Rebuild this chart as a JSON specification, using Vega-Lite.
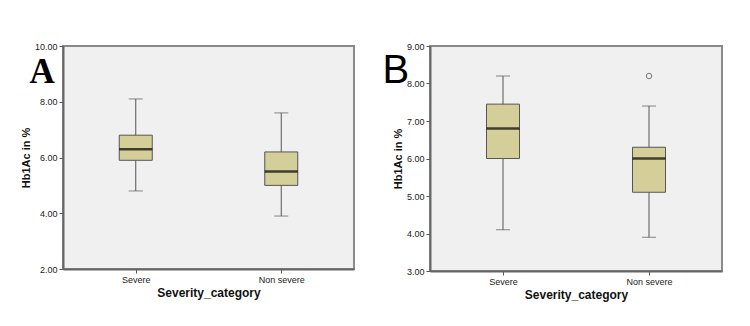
{
  "$schema": "https://vega.github.io/schema/vega-lite/v6.json",
  "padding": {"left": 19, "top": 41, "right": 5, "bottom": 5},
  "background": "white",
  "spacing": 76,
  "bounds": "flush",
  "datasets": {
    "boxA": [
      {"group": "Severe", "low": 4.8, "q1": 5.9, "median": 6.3, "q3": 6.8, "high": 8.1},
      {"group": "Non severe", "low": 3.9, "q1": 5.0, "median": 5.5, "q3": 6.2, "high": 7.6}
    ],
    "boxB": [
      {"group": "Severe", "low": 4.1, "q1": 6.0, "median": 6.8, "q3": 7.45, "high": 8.2},
      {"group": "Non severe", "low": 3.9, "q1": 5.1, "median": 6.0, "q3": 6.3, "high": 7.4}
    ],
    "outB": [
      {"group": "Non severe", "value": 8.2}
    ]
  },
  "config": {
    "view": {"fill": "#f0f0f0", "stroke": "#8a8a8a", "strokeWidth": 2},
    "axis": {
      "domainColor": "#666666",
      "domainWidth": 2,
      "tickColor": "#555555",
      "tickSize": 4,
      "labelFont": "Liberation Sans",
      "labelFontSize": 9,
      "labelColor": "#222222",
      "labelPadding": 2,
      "labelOverlap": false,
      "titleFont": "Liberation Sans",
      "titleFontWeight": "bold",
      "titleColor": "#111111",
      "grid": false
    }
  },
  "hconcat": [
    {
      "width": 291,
      "height": 223,
      "data": {"name": "boxA"},
      "resolve": {"axis": {"x": "independent"}},
      "layer": [
        {
          "encoding": {
            "x": {
              "field": "group",
              "type": "nominal",
              "sort": ["Severe", "Non severe"],
              "scale": {"type": "point", "padding": 0.5},
              "axis": {"title": "Severity_category", "labelAngle": 0, "titleFontSize": 12, "titlePadding": 3}
            },
            "y": {
              "field": "low",
              "type": "quantitative",
              "scale": {"domain": [2, 10], "nice": false, "zero": false},
              "axis": {"title": "Hb1Ac in %", "values": [2, 4, 6, 8, 10], "format": ".2f", "titleFontSize": 11, "titlePadding": 3}
            }
          },
          "layer": [
            {
              "mark": {"type": "rule", "color": "#555555", "strokeWidth": 1},
              "encoding": {"y2": {"field": "high"}}
            },
            {
              "mark": {"type": "tick", "color": "#555555", "size": 14, "thickness": 1}
            },
            {
              "mark": {"type": "bar", "width": 33, "fill": "#d4cf98", "stroke": "#555555", "strokeWidth": 1},
              "encoding": {
                "y": {"field": "q1", "type": "quantitative"},
                "y2": {"field": "q3"}
              }
            },
            {
              "mark": {"type": "tick", "color": "#000000", "size": 33, "thickness": 2.5},
              "encoding": {"y": {"field": "median", "type": "quantitative"}}
            }
          ]
        },
        {
          "mark": {"type": "tick", "color": "#555555", "size": 14, "thickness": 1},
          "encoding": {
            "x": {
              "field": "group",
              "type": "nominal",
              "sort": ["Severe", "Non severe"],
              "axis": {
                "orient": "top",
                "title": "A",
                "domain": false,
                "ticks": false,
                "labels": false,
                "titleX": -34,
                "titleY": 36,
                "titleAngle": 0,
                "titleAlign": "left",
                "titleBaseline": "alphabetic",
                "titleFont": "Liberation Serif",
                "titleFontSize": 35,
                "titleFontWeight": "bold",
                "titleColor": "#000000"
              }
            },
            "y": {
              "field": "high",
              "type": "quantitative",
              "axis": {"title": "Hb1Ac in %", "values": [2, 4, 6, 8, 10], "format": ".2f", "titleFontSize": 11, "titlePadding": 3}
            }
          }
        }
      ]
    },
    {
      "width": 292,
      "height": 225,
      "resolve": {"axis": {"x": "independent"}},
      "layer": [
        {
          "data": {"name": "boxB"},
          "encoding": {
            "x": {
              "field": "group",
              "type": "nominal",
              "sort": ["Severe", "Non severe"],
              "scale": {"type": "point", "padding": 0.5},
              "axis": {"title": "Severity_category", "labelAngle": 0, "titleFontSize": 12, "titlePadding": 3}
            },
            "y": {
              "field": "low",
              "type": "quantitative",
              "scale": {"domain": [3, 9], "nice": false, "zero": false},
              "axis": {"title": "Hb1Ac in %", "values": [3, 4, 5, 6, 7, 8, 9], "format": ".2f", "titleFontSize": 11, "titlePadding": 3}
            }
          },
          "layer": [
            {
              "mark": {"type": "rule", "color": "#555555", "strokeWidth": 1},
              "encoding": {"y2": {"field": "high"}}
            },
            {
              "mark": {"type": "tick", "color": "#555555", "size": 14, "thickness": 1}
            },
            {
              "mark": {"type": "tick", "color": "#555555", "size": 14, "thickness": 1},
              "encoding": {"y": {"field": "high", "type": "quantitative"}}
            },
            {
              "mark": {"type": "bar", "width": 33, "fill": "#d4cf98", "stroke": "#555555", "strokeWidth": 1},
              "encoding": {
                "y": {"field": "q1", "type": "quantitative"},
                "y2": {"field": "q3"}
              }
            },
            {
              "mark": {"type": "tick", "color": "#000000", "size": 33, "thickness": 2.5},
              "encoding": {"y": {"field": "median", "type": "quantitative"}}
            }
          ]
        },
        {
          "data": {"name": "outB"},
          "mark": {"type": "point", "shape": "circle", "filled": false, "stroke": "#444444", "strokeWidth": 1, "size": 30},
          "encoding": {
            "x": {
              "field": "group",
              "type": "nominal",
              "sort": ["Severe", "Non severe"],
              "axis": {
                "orient": "top",
                "title": "B",
                "domain": false,
                "ticks": false,
                "labels": false,
                "titleX": -48,
                "titleY": 36,
                "titleAngle": 0,
                "titleAlign": "left",
                "titleBaseline": "alphabetic",
                "titleFont": "Liberation Sans",
                "titleFontSize": 40,
                "titleFontWeight": "normal",
                "titleColor": "#000000"
              }
            },
            "y": {
              "field": "value",
              "type": "quantitative",
              "axis": {"title": "Hb1Ac in %", "values": [3, 4, 5, 6, 7, 8, 9], "format": ".2f", "titleFontSize": 11, "titlePadding": 3}
            }
          }
        }
      ]
    }
  ]
}
